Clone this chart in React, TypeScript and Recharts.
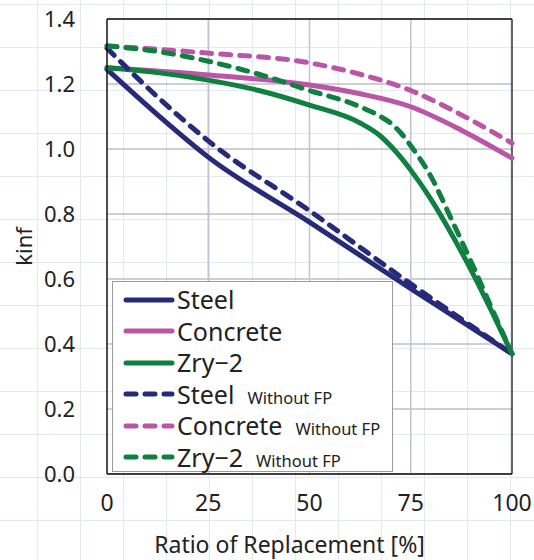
import React from "react";
import {
  LineChart,
  Line,
  XAxis,
  YAxis,
  CartesianGrid,
  ReferenceLine,
} from "recharts";

// ratio of replacement [%] vs kinf
const steel = [
  { x: 0, y: 1.245 },
  { x: 12.5, y: 1.105 },
  { x: 25, y: 0.975 },
  { x: 50, y: 0.775 },
  { x: 75, y: 0.57 },
  { x: 100, y: 0.37 },
];
const concrete = [
  { x: 0, y: 1.25 },
  { x: 25, y: 1.228 },
  { x: 50, y: 1.197 },
  { x: 62.5, y: 1.17 },
  { x: 75, y: 1.13 },
  { x: 87.5, y: 1.058 },
  { x: 100, y: 0.972 },
];
const zry = [
  { x: 0, y: 1.25 },
  { x: 12.5, y: 1.235 },
  { x: 25, y: 1.212 },
  { x: 37.5, y: 1.18 },
  { x: 50, y: 1.135 },
  { x: 62.5, y: 1.08 },
  { x: 67.5, y: 1.04 },
  { x: 70, y: 1.01 },
  { x: 72.5, y: 0.975 },
  { x: 75, y: 0.935 },
  { x: 80, y: 0.845 },
  { x: 85, y: 0.74 },
  { x: 90, y: 0.625 },
  { x: 95, y: 0.5 },
  { x: 100, y: 0.37 },
];
const steelNoFp = [
  { x: 0, y: 1.31 },
  { x: 12.5, y: 1.16 },
  { x: 25, y: 1.025 },
  { x: 50, y: 0.81 },
  { x: 75, y: 0.585 },
  { x: 100, y: 0.37 },
];
const concreteNoFp = [
  { x: 0, y: 1.317 },
  { x: 25, y: 1.295 },
  { x: 50, y: 1.265 },
  { x: 62.5, y: 1.23 },
  { x: 75, y: 1.18 },
  { x: 87.5, y: 1.105 },
  { x: 100, y: 1.018 },
];
const zryNoFp = [
  { x: 0, y: 1.317 },
  { x: 12.5, y: 1.3 },
  { x: 25, y: 1.27 },
  { x: 37.5, y: 1.23 },
  { x: 50, y: 1.18 },
  { x: 62.5, y: 1.13 },
  { x: 67.5, y: 1.1 },
  { x: 70, y: 1.08 },
  { x: 72.5, y: 1.05 },
  { x: 75, y: 1.01 },
  { x: 80, y: 0.915 },
  { x: 85, y: 0.785 },
  { x: 90, y: 0.65 },
  { x: 95, y: 0.51 },
  { x: 100, y: 0.37 },
];

const xTicks = [0, 25, 50, 75, 100];
const yTicks = [0, 0.2, 0.4, 0.6, 0.8, 1.0, 1.2, 1.4];
const noFpNote = "Without FP";

const NAVY = "#262a79";
const PINK = "#bb55a6";
const GREEN = "#108040";
const font = "'Noto Sans', 'DejaVu Sans', sans-serif";

const series = [
  { name: "Steel", data: steel, color: NAVY, dashed: false },
  { name: "Concrete", data: concrete, color: PINK, dashed: false },
  { name: "Zry\u22122", data: zry, color: GREEN, dashed: false },
  { name: "Steel", data: steelNoFp, color: NAVY, dashed: true },
  { name: "Concrete", data: concreteNoFp, color: PINK, dashed: true },
  { name: "Zry\u22122", data: zryNoFp, color: GREEN, dashed: true },
];

function LegendBox() {
  return (
    <div
      style={{
        position: "absolute",
        left: 112,
        top: 281,
        width: 281,
        height: 191,
        border: "1px solid #9a9a9a",
        background: "#fff",
        boxSizing: "border-box",
        padding: "2px 0 0 10px",
        fontFamily: font,
        color: "#222",
      }}
    >
      {series.map((s, i) => (
        <div
          key={i}
          style={{ display: "flex", alignItems: "baseline", height: 31.5 }}
        >
          <svg width={54} height={10} style={{ alignSelf: "center" }}>
            <line
              x1={3}
              x2={49}
              y1={5}
              y2={5}
              stroke={s.color}
              strokeWidth={5}
              strokeLinecap="round"
              strokeDasharray={s.dashed ? "10 9" : undefined}
            />
          </svg>
          <span style={{ fontSize: 25, lineHeight: "31px" }}>{s.name}</span>
          {s.dashed && (
            <span style={{ fontSize: 16.5, marginLeft: 13 }}>{noFpNote}</span>
          )}
        </div>
      ))}
    </div>
  );
}

export default function App() {
  const paper = "#e4e8f5";
  return (
    <div
      style={{
        position: "absolute",
        left: 0,
        top: 0,
        width: 534,
        height: 560,
        backgroundColor: "#fff",
        backgroundImage: `linear-gradient(to right, ${paper} 1.5px, transparent 1.5px), linear-gradient(to bottom, ${paper} 1.5px, transparent 1.5px)`,
        backgroundSize: "43px 43px",
        backgroundPosition: "37px 4px",
      }}
    >
      <LineChart
        width={534}
        height={560}
        margin={{ top: 19, right: 22, bottom: 0, left: 0 }}
      >
        <CartesianGrid horizontal vertical={false} stroke="#a0a0a0" />
        <XAxis
          type="number"
          dataKey="x"
          domain={[0, 100]}
          ticks={xTicks}
          height={86}
          tickLine={false}
          tickSize={0}
          tickMargin={21}
          axisLine={{ stroke: "#111", strokeWidth: 1.5 }}
          tick={{ fill: "#222", fontSize: 23, fontFamily: font }}
          label={{
            value: "Ratio of Replacement [%]",
            position: "insideBottom",
            offset: 7,
            dx: -20,
            style: { fill: "#222", fontSize: 23, fontFamily: font },
          }}
        />
        <YAxis
          type="number"
          dataKey="y"
          domain={[0, 1.4]}
          ticks={yTicks}
          width={107}
          tickLine={false}
          tickSize={0}
          tickMargin={32}
          axisLine={{ stroke: "#111", strokeWidth: 1.5 }}
          tickFormatter={(v: number) => v.toFixed(1)}
          tick={{ fill: "#222", fontSize: 22, fontFamily: font }}
          label={{
            value: "kinf",
            angle: -90,
            position: "insideLeft",
            offset: 24,
            style: { fill: "#222", fontSize: 22, fontFamily: font, textAnchor: "middle" },
          }}
        />
        {[25, 50, 75].map((v) => (
          <ReferenceLine key={v} x={v} stroke="#c2c2d8" strokeWidth={1.5} />
        ))}
        <ReferenceLine y={1.4} stroke="#111" strokeWidth={1.5} />
        <ReferenceLine x={100} stroke="#333" strokeWidth={1.5} />
        {series.map((s, i) => (
          <Line
            key={i}
            data={s.data}
            dataKey="y"
            name={s.name}
            type="monotone"
            stroke={s.color}
            strokeWidth={5}
            strokeDasharray={s.dashed ? "10 9" : undefined}
            strokeLinecap="round"
            dot={false}
            isAnimationActive={false}
          />
        ))}
      </LineChart>
      <LegendBox />
    </div>
  );
}
